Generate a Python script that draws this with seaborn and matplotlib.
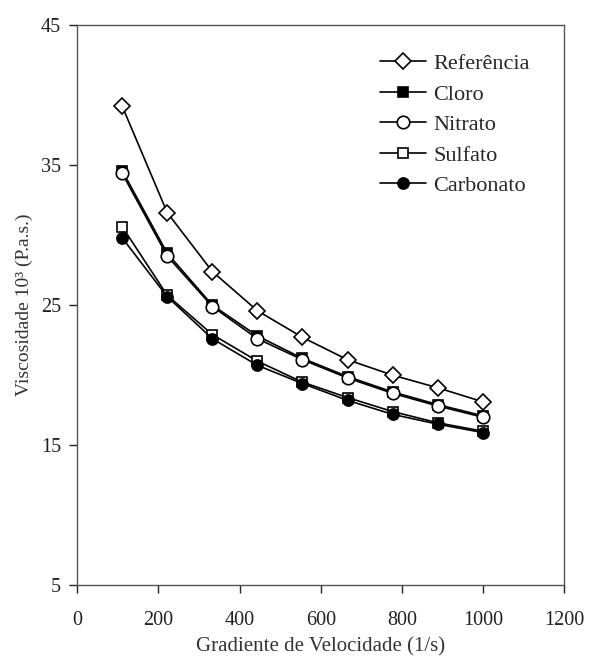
import matplotlib
matplotlib.use("Agg")
import matplotlib.pyplot as plt
import seaborn as sns
import pandas as pd

# Dados
gradiente = [111, 222, 333, 444, 555, 666, 777, 888, 999]
referencia = [39.2, 31.6, 27.4, 24.6, 22.7, 21.1, 20.0, 19.1, 18.1]
cloro = [34.6, 28.7, 25.0, 22.8, 21.2, 19.9, 18.8, 17.9, 17.1]
nitrato = [34.4, 28.5, 24.9, 22.6, 21.1, 19.8, 18.7, 17.8, 17.0]
sulfato = [30.6, 25.7, 22.9, 21.0, 19.5, 18.4, 17.4, 16.6, 16.0]
carbonato = [29.8, 25.6, 22.6, 20.7, 19.4, 18.2, 17.2, 16.5, 15.9]

series = {
    "Referência": (referencia, "D", "white", 8.5),
    "Cloro": (cloro, "s", "black", 7.5),
    "Nitrato": (nitrato, "o", "white", 9),
    "Sulfato": (sulfato, "s", "white", 7.5),
    "Carbonato": (carbonato, "o", "black", 8),
}

sns.set_style("ticks")
plt.rcParams["font.family"] = ["Liberation Serif", "DejaVu Serif"]

fig = plt.figure(figsize=(5.89, 6.59), dpi=100)
ax = fig.add_axes([0.131, 0.112, 0.827, 0.850])

for nome, (valores, marcador, cor, tam) in series.items():
    df = pd.DataFrame({"x": gradiente, "y": valores})
    sns.lineplot(data=df, x="x", y="y", ax=ax, color="black", linewidth=1.2,
                 marker=marcador, markersize=tam, markerfacecolor=cor,
                 markeredgecolor="black", markeredgewidth=1.2, label=nome)

ax.set_xlim(0, 1200)
ax.set_ylim(5, 45)
ax.set_xticks(range(0, 1201, 200))
ax.set_yticks([5, 15, 25, 35, 45])
ax.tick_params(direction="out", length=5.5, width=1, labelsize=14.5, colors="#222222")
ax.tick_params(axis="x", pad=13)
ax.tick_params(axis="y", pad=6)
for s in ax.spines.values():
    s.set_color("#555555")
    s.set_linewidth(1.0)

ax.set_xlabel("Gradiente de Velocidade (1/s)", fontsize=15, color="#333333", labelpad=5)
ax.set_ylabel("Viscosidade 10³ (P.a.s.)", fontsize=14, color="#333333", labelpad=6)

leg = ax.legend(loc="upper left", bbox_to_anchor=(0.58, 0.985), frameon=False,
                fontsize=16, handlelength=2.1, labelspacing=0.45, handletextpad=0.3)

plt.savefig("out.png", dpi=100)
plt.close()
